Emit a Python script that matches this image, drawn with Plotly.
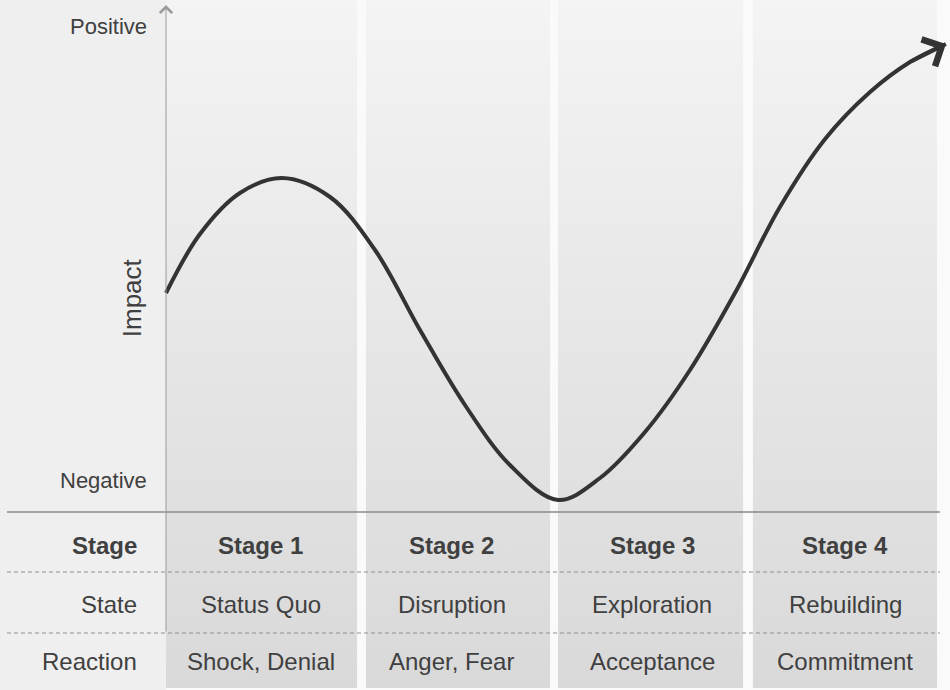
import plotly.graph_objects as go

# ---------------- data ----------------
stages = ["Stage 1", "Stage 2", "Stage 3", "Stage 4"]
states = ["Status Quo", "Disruption", "Exploration", "Rebuilding"]
reactions = ["Shock, Denial", "Anger, Fear", "Acceptance", "Commitment"]
row_labels = ["Stage", "State", "Reaction"]

# column centres (stage units) and band extents
col_centers = [0.49, 1.48, 2.52, 3.52]
band_left = [0.0, 1.036, 2.031, 3.041]
band_right = [0.990, 1.990, 2.990, 3.995]

# impact curve (x in stage units, y impact; 0 = baseline)
curve_x = [0.000, 0.176, 0.383, 0.601, 0.850, 1.083, 1.316, 1.549, 1.782, 2.031,
           2.249, 2.482, 2.715, 2.948, 3.181, 3.415, 3.648, 3.855, 4.041]
curve_y = [43.8, 55.6, 63.8, 66.8, 63.0, 52.4, 36.4, 21.4, 9.4, 2.4,
           6.8, 16.0, 28.4, 43.8, 61.0, 74.6, 84.0, 90.0, 93.6]

# vertical positions of table rows / rules (impact units)
row_y = [-6.6, -18.4, -29.8]
dash_y = [-12.0, -24.2]
base_y = 0.0
table_bottom = -35.2
chart_top = 102.4

X_RANGE = [-0.8601, 4.0622]
Y_RANGE = [-35.6, 102.4]

FONT = "Liberation Sans, Arial, sans-serif"
TXT = "#404040"

fig = go.Figure()

# shaded stage bands with vertical gradient
for l, r in zip(band_left, band_right):
    fig.add_trace(go.Scatter(
        x=[l, r, r, l, l], y=[table_bottom, table_bottom, chart_top, chart_top, table_bottom],
        mode="lines", line=dict(width=0), fill="toself",
        fillgradient=dict(type="vertical",
                          colorscale=[[0, "#d9d9d9"], [0.5, "#e6e6e6"], [1, "#f4f4f4"]]),
        hoverinfo="skip", showlegend=False))

# impact curve
fig.add_trace(go.Scatter(
    x=curve_x, y=curve_y, mode="lines",
    line=dict(color="#333333", width=4, shape="spline", smoothing=1.0),
    hoverinfo="skip", showlegend=False))

shapes = []
# light background behind the banded area
shapes.append(dict(type="rect", xref="x", yref="y", x0=0, x1=X_RANGE[1],
                   y0=Y_RANGE[0], y1=Y_RANGE[1], fillcolor="#fafafa",
                   line=dict(width=0), layer="below"))
# baseline
shapes.append(dict(type="line", xref="x", yref="y", x0=-0.824, x1=4.01,
                   y0=base_y, y1=base_y, line=dict(color="#8a8a8a", width=1.5),
                   layer="above"))
# dashed rules
for dy in dash_y:
    shapes.append(dict(type="line", xref="x", yref="y", x0=-0.824, x1=4.01,
                       y0=dy, y1=dy, line=dict(color="#8f8f8f", width=1, dash="4px,3px"),
                       layer="above"))

annotations = []
# vertical axis with arrow
annotations.append(dict(x=0, y=101.4, ax=0, ay=dash_y[1], xref="x", yref="y",
                        axref="x", ayref="y", showarrow=True, arrowhead=4,
                        arrowsize=2.4, arrowwidth=1, arrowcolor="#9a9a9a", text=""))
# curve arrow head
annotations.append(dict(x=curve_x[-1], y=curve_y[-1], ax=curve_x[-2], ay=curve_y[-2],
                        xref="x", yref="y", axref="x", ayref="y", showarrow=True,
                        arrowhead=4, arrowsize=1.45, arrowwidth=4, arrowcolor="#333333",
                        text="", standoff=0))
# axis labels
annotations.append(dict(x=-0.090, y=97.2, xref="x", yref="y", text="Positive",
                        showarrow=False, xanchor="right", yanchor="middle",
                        font=dict(family=FONT, size=22, color=TXT)))
annotations.append(dict(x=-0.090, y=6.4, xref="x", yref="y", text="Negative",
                        showarrow=False, xanchor="right", yanchor="middle",
                        font=dict(family=FONT, size=22, color=TXT)))
annotations.append(dict(x=-0.175, y=42.8, xref="x", yref="y", text="Impact",
                        showarrow=False, textangle=-90, xanchor="center", yanchor="middle",
                        font=dict(family=FONT, size=26, color=TXT)))
# row labels
for i, (lab, ry) in enumerate(zip(row_labels, row_y)):
    txt = "<b>%s</b>" % lab if i == 0 else lab
    annotations.append(dict(x=-0.140, y=ry, xref="x", yref="y", text=txt,
                            showarrow=False, xanchor="right", yanchor="middle",
                            font=dict(family=FONT, size=24, color=TXT)))
# table cells
for cx, s, st, rc in zip(col_centers, stages, states, reactions):
    for ry, t in zip(row_y, ["<b>%s</b>" % s, st, rc]):
        annotations.append(dict(x=cx, y=ry, xref="x", yref="y", text=t,
                                showarrow=False, xanchor="center", yanchor="middle",
                                font=dict(family=FONT, size=24, color=TXT)))

fig.update_layout(
    width=950, height=690, autosize=False,
    margin=dict(l=0, r=0, t=0, b=0, pad=0),
    paper_bgcolor="#efefef", plot_bgcolor="#efefef",
    xaxis=dict(range=X_RANGE, visible=False, fixedrange=True),
    yaxis=dict(range=Y_RANGE, visible=False, fixedrange=True),
    shapes=shapes, annotations=annotations, showlegend=False,
)

fig.write_html("out.html", config={"displayModeBar": False},
               post_script="document.body.style.margin='0px';document.body.style.overflow='hidden';")
